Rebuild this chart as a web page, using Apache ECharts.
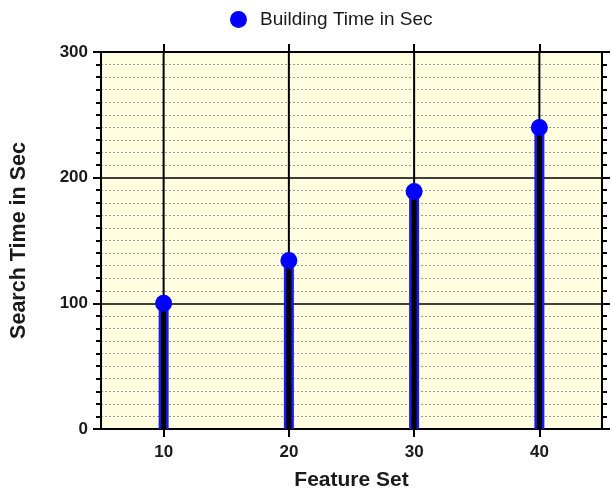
<!DOCTYPE html>
<html><head><meta charset="utf-8">
<script src="https://cdn.jsdelivr.net/npm/echarts@6/dist/echarts.min.js"></script>
<style>html,body{margin:0;padding:0;background:#fff}#c{width:612px;height:494px}</style>
</head><body><div id="c"></div>
<script>
const featureSets = [10, 20, 30, 40];
const buildingTime = [100, 134, 189, 240];
const xTicks = [10, 20, 30, 40];
const seriesName = 'Building Time in Sec';

const pts = featureSets.map((x, i) => [x, buildingTime[i]]);
const chart = echarts.init(document.getElementById('c'), null, {renderer: 'canvas'});
const font = 'Arial, "Liberation Sans", sans-serif';
chart.setOption({
  animation: false,
  backgroundColor: '#fff',
  legend: {
    data: [{name: seriesName, icon: 'circle'}],
    top: 5, left: 225,
    itemWidth: 17, itemHeight: 17,
    textStyle: {fontFamily: font, fontSize: 19, color: '#1a1a1a', padding: [0, 0, 0, 8]}
  },
  grid: {left: 101, right: 10, top: 52, bottom: 65, outerBoundsMode: 'none', containLabel: false,
         show: true, backgroundColor: '#fefde0', borderWidth: 0},
  xAxis: [{
    type: 'value', min: 5, max: 45, position: 'bottom',
    name: 'Feature Set', nameLocation: 'middle', nameGap: 41,
    nameTextStyle: {fontFamily: font, fontSize: 21, fontWeight: 'bold', color: '#1a1a1a'},
    axisLine: {show: true, onZero: false, lineStyle: {color: '#000', width: 2}},
    axisTick: {show: true, inside: false, length: 8, customValues: xTicks, lineStyle: {color: '#000', width: 2}},
    axisLabel: {customValues: xTicks, margin: 15, fontFamily: font, fontSize: 17, fontWeight: 'bold', color: '#1a1a1a'},
    splitLine: {show: false}
  }, {
    type: 'value', min: 5, max: 45, position: 'top',
    axisLine: {show: true, onZero: false, lineStyle: {color: '#000', width: 2}},
    axisTick: {show: true, inside: false, length: 8, customValues: xTicks, lineStyle: {color: '#000', width: 2}},
    axisLabel: {show: false},
    splitLine: {show: false}
  }],
  yAxis: [{
    type: 'value', min: 0, max: 300, interval: 100, position: 'left',
    name: 'Search Time in Sec', nameLocation: 'middle', nameGap: 71,
    nameTextStyle: {fontFamily: font, fontSize: 21.5, fontWeight: 'bold', color: '#1a1a1a'},
    axisLine: {show: true, onZero: false, lineStyle: {color: '#000', width: 2}},
    axisTick: {show: true, length: 8, lineStyle: {color: '#000', width: 2}},
    minorTick: {show: true, splitNumber: 10, length: 5, lineStyle: {color: '#000', width: 2}},
    axisLabel: {margin: 13, fontFamily: font, fontSize: 17, fontWeight: 'bold', color: '#1a1a1a'},
    splitLine: {show: true, lineStyle: {color: '#000', width: 1.5}},
    minorSplitLine: {show: true, lineStyle: {color: '#999', width: 1, type: [2, 2]}}
  }, {
    type: 'value', min: 0, max: 300, interval: 100, position: 'right',
    axisLine: {show: true, onZero: false, lineStyle: {color: '#000', width: 2}},
    axisTick: {show: true, length: 8, lineStyle: {color: '#000', width: 2}},
    minorTick: {show: true, splitNumber: 10, length: 5, lineStyle: {color: '#000', width: 2}},
    axisLabel: {show: false},
    splitLine: {show: false}
  }],
  series: [{
    type: 'custom',
    name: 'grid-v',
    silent: true,
    z: 1,
    data: xTicks.map(v => [v]),
    renderItem: (params, api) => {
      const top = api.coord([api.value(0), 300]);
      const bot = api.coord([api.value(0), 0]);
      return {type: 'line', shape: {x1: top[0], y1: top[1], x2: bot[0], y2: bot[1]}, style: {stroke: '#000', lineWidth: 2}};
    }
  }, {
    type: 'custom',
    name: 'stem',
    silent: true,
    z: 2,
    data: pts,
    renderItem: (params, api) => {
      const t = api.coord([api.value(0), api.value(1)]);
      const b = api.coord([api.value(0), 0]);
      return {type: 'group', children: [
        {type: 'rect', shape: {x: t[0] - 5, y: t[1], width: 10, height: b[1] - t[1]}, style: {fill: '#1a1aee'}},
        {type: 'rect', shape: {x: t[0] - 2.5, y: t[1], width: 5, height: b[1] - t[1]}, style: {fill: '#000'}}
      ]};
    }
  }, {
    type: 'scatter',
    name: seriesName,
    symbol: 'circle',
    symbolSize: 17,
    z: 3,
    data: pts,
    itemStyle: {color: '#0000ff', opacity: 1}
  }]
});
</script></body></html>
